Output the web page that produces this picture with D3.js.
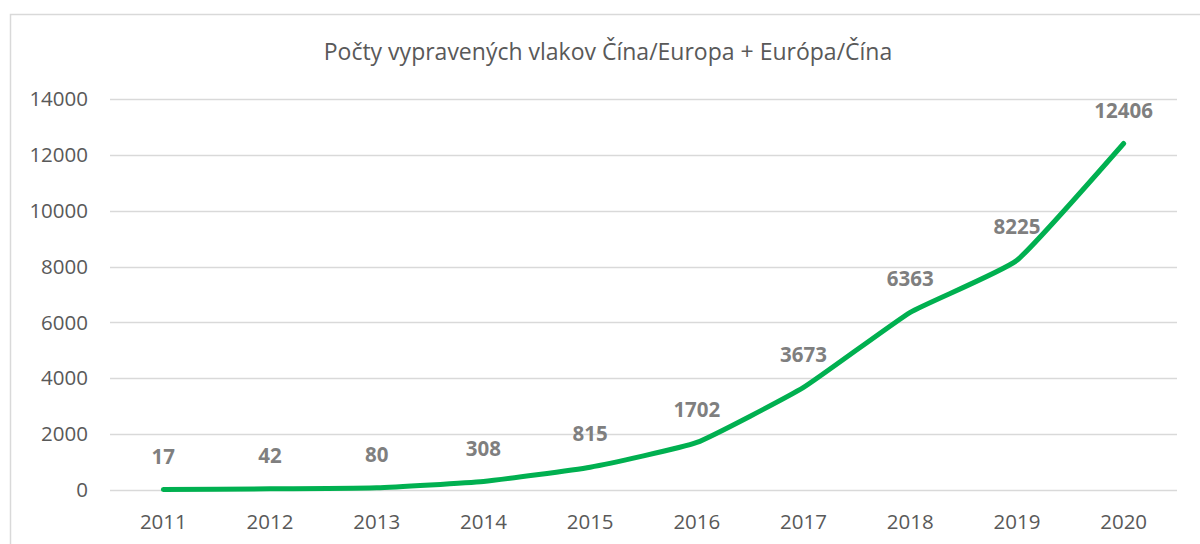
<!DOCTYPE html>
<meta charset="utf-8">
<style>
body {
  margin: 0;
  background: #fff;
  font-family: "Open Sans", "Liberation Sans", sans-serif;
}
.grid line {
  stroke: #d9d9d9;
  stroke-width: 1.3px;
}
.tick-label {
  fill: #595959;
  font-size: 20.5px;
}
.data-label {
  fill: #7f7f7f;
  font-size: 20.5px;
  font-weight: bold;
}
.title {
  fill: #595959;
  font-size: 23px;
}
.line {
  fill: none;
  stroke: #00b050;
  stroke-width: 5px;
  stroke-linecap: round;
  stroke-linejoin: round;
}
</style>
<body>
<script src="https://cdn.jsdelivr.net/npm/d3@7"></script>
<script>
var title = "Počty vypravených vlakov Čína/Europa + Európa/Čína";
var years = ["2011", "2012", "2013", "2014", "2015", "2016", "2017", "2018", "2019", "2020"];
var trains = [17, 42, 80, 308, 815, 1702, 3673, 6363, 8225, 12406];
var yTicks = [0, 2000, 4000, 6000, 8000, 10000, 12000, 14000];

var width = 1200,
    height = 544;

var svg = d3.select("body").append("svg")
    .attr("width", width)
    .attr("height", height);

// chart frame (runs off the bottom/right edges)
svg.append("rect")
    .attr("x", 10.5)
    .attr("y", 14.5)
    .attr("width", 1200)
    .attr("height", 600)
    .attr("fill", "none")
    .attr("stroke", "#d9d9d9")
    .attr("stroke-width", 1.5);

var x = d3.scaleBand()
    .domain(years)
    .range([110, 1177]);

var y = d3.scaleLinear()
    .domain([0, 14000])
    .range([490, 99]);

svg.append("text")
    .attr("class", "title")
    .attr("x", 608)
    .attr("y", 52)
    .attr("dy", "0.35em")
    .attr("text-anchor", "middle")
    .text(title);

svg.append("g")
    .attr("class", "grid")
  .selectAll("line")
    .data(yTicks)
  .enter().append("line")
    .attr("x1", 110)
    .attr("x2", 1177)
    .attr("y1", function(d) { return Math.round(y(d)) + 0.5; })
    .attr("y2", function(d) { return Math.round(y(d)) + 0.5; });

svg.append("g")
  .selectAll("text")
    .data(yTicks)
  .enter().append("text")
    .attr("class", "tick-label")
    .attr("x", 88)
    .attr("y", function(d) { return y(d); })
    .attr("dy", "0.35em")
    .attr("text-anchor", "end")
    .text(function(d) { return d; });

svg.append("g")
  .selectAll("text")
    .data(years)
  .enter().append("text")
    .attr("class", "tick-label")
    .attr("x", function(d) { return x(d) + x.bandwidth() / 2; })
    .attr("y", 522)
    .attr("dy", "0.35em")
    .attr("text-anchor", "middle")
    .text(function(d) { return d; });

var line = d3.line()
    .x(function(d, i) { return x(years[i]) + x.bandwidth() / 2; })
    .y(function(d) { return y(d); })
    .curve(d3.curveCardinal.tension(0.6));

svg.append("path")
    .datum(trains)
    .attr("class", "line")
    .attr("d", line);

svg.append("g")
  .selectAll("text")
    .data(trains)
  .enter().append("text")
    .attr("class", "data-label")
    .attr("x", function(d, i) { return x(years[i]) + x.bandwidth() / 2; })
    .attr("y", function(d) { return y(d) - 33; })
    .attr("dy", "0.35em")
    .attr("text-anchor", "middle")
    .text(function(d) { return d; });
</script>
</body>
